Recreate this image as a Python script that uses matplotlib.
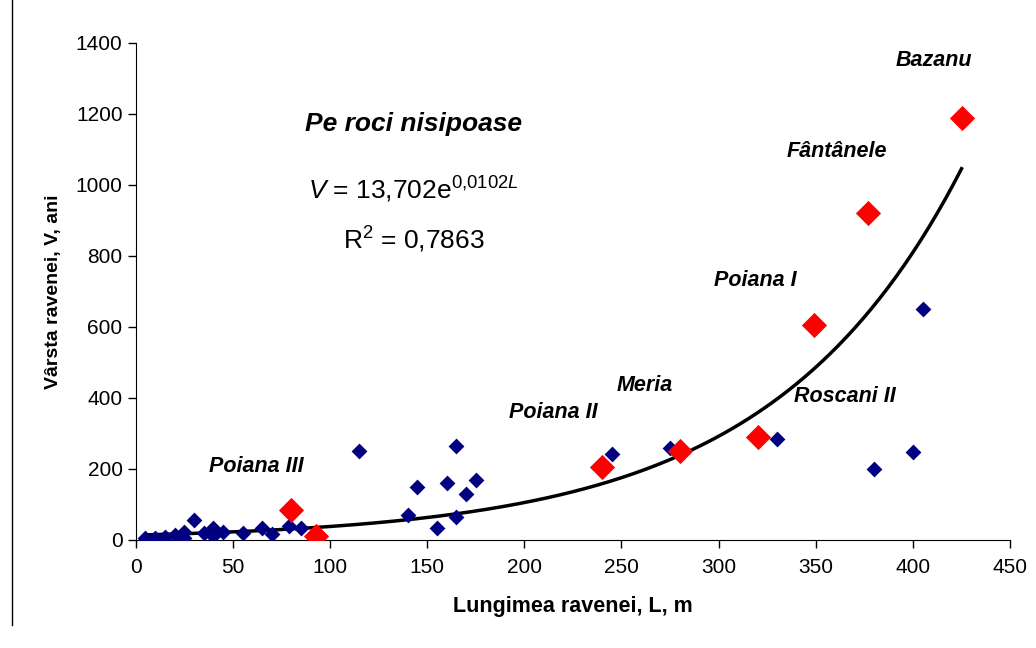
import numpy as np
import matplotlib
matplotlib.use("Agg")
import matplotlib.pyplot as plt
from matplotlib.lines import Line2D

plt.rcParams['font.family'] = ['Liberation Sans', 'DejaVu Sans']
plt.rcParams['mathtext.fontset'] = 'custom'
plt.rcParams['mathtext.rm'] = 'Liberation Sans'
plt.rcParams['mathtext.it'] = 'Liberation Sans:italic'

# blue points: other ravines
blue_L = [5, 10, 15, 20, 25, 25, 30, 35, 40, 40, 45, 55, 65, 70, 79, 85,
          115, 140, 145, 155, 160, 165, 165, 170, 175,
          245, 275, 330, 380, 400, 405]
blue_V = [5, 5, 8, 15, 22, 5, 55, 20, 35, 12, 22, 20, 35, 18, 40, 35,
          250, 70, 150, 35, 160, 265, 65, 130, 170,
          243, 258, 285, 200, 248, 652]

# red points: named ravines
red_L = [80, 93, 240, 280, 320, 349, 377, 425]
red_V = [85, 10, 205, 252, 290, 605, 922, 1190]

# labels of named ravines
names = ['Poiana III', 'Poiana II', 'Meria', 'Roscani II', 'Poiana I', 'Fântânele', 'Bazanu']
name_L = [62, 215, 262, 365, 319, 361, 411]
name_V = [208, 358, 434, 403, 732, 1093, 1352]

# exponential fit
a_fit = 13.702
b_fit = 0.0102

fig = plt.figure(figsize=(10.36, 6.48), dpi=100)
ax = fig.add_axes([0.131, 0.1667, 0.844, 0.767])

fit_L = np.linspace(5, 425, 200)
ax.plot(fit_L, a_fit * np.exp(b_fit * fit_L), color='black', lw=2.5, zorder=2)
ax.scatter(blue_L, blue_V, marker='D', s=65, color='#000080', zorder=3, linewidths=0)
ax.scatter(red_L, red_V, marker='D', s=165, color='#ff0000', zorder=4, linewidths=0)

for n, x, y in zip(names, name_L, name_V):
    ax.text(x, y, n, fontsize=15.5, fontweight='bold', style='italic', ha='center', va='center')

ax.text(143, 1172, 'Pe roci nisipoase', fontsize=19, fontweight='bold', style='italic',
        ha='center', va='center')
ax.text(143, 985, r'$\it{V}$ = 13,702e$^{0{,}0102\it{L}}$', fontsize=19, ha='center', va='center')
ax.text(143, 845, r'R$^2$ = 0,7863', fontsize=19, ha='center', va='center')

ax.set_xlim(0, 450)
ax.set_ylim(0, 1400)
ax.set_xticks(np.arange(0, 451, 50))
ax.set_yticks(np.arange(0, 1401, 200))
ax.tick_params(labelsize=15, direction='out', length=6, width=1)
ax.tick_params(axis='x', pad=7)
ax.spines['top'].set_visible(False)
ax.spines['right'].set_visible(False)
ax.set_xlabel('Lungimea ravenei, L, m', fontsize=15.5, fontweight='bold', labelpad=14)
ax.set_ylabel('Vârsta ravenei, V, ani', fontsize=14, fontweight='bold', labelpad=10)

fig.add_artist(Line2D([0.012, 0.012], [1.0, 0.035], transform=fig.transFigure,
                      color='black', lw=1))

fig.savefig('out.png', dpi=100)
